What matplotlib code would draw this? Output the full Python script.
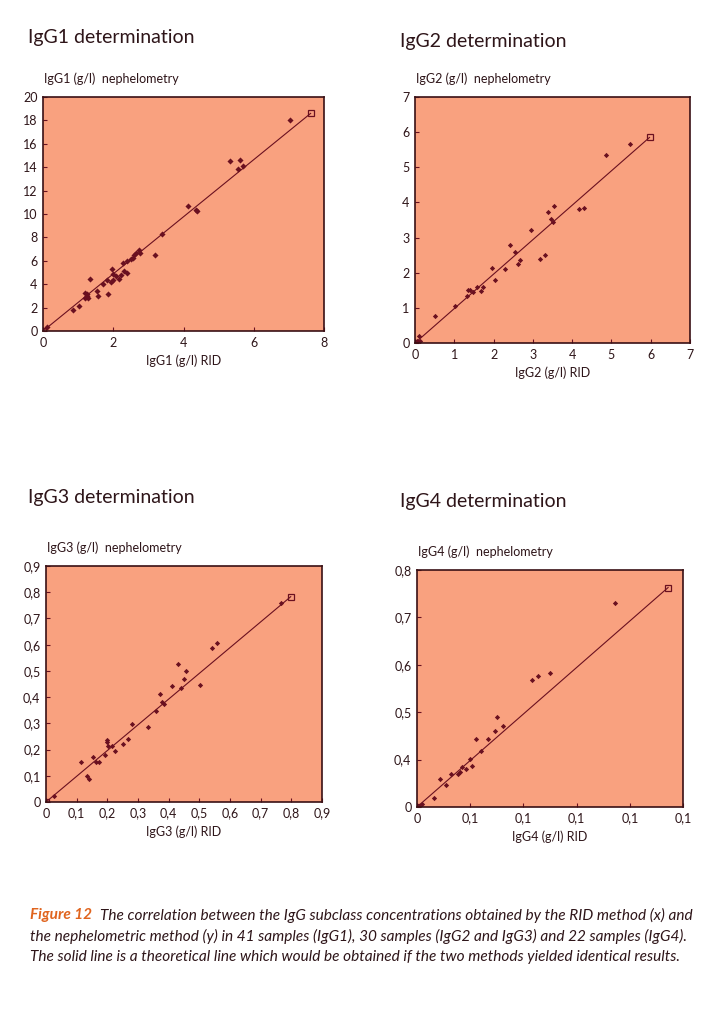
import matplotlib
matplotlib.use("Agg")
import matplotlib.pyplot as plt

plt.rcParams['font.family'] = ['Lato', 'DejaVu Sans']

# ---- data ----
# IgG1: RID (x) vs nephelometry (y), g/l
igg1_rid = [7.03, 5.31, 5.62, 5.56, 5.70, 4.14, 4.36, 4.38, 3.40, 3.20,
            2.74, 2.76, 2.65, 2.59, 2.55, 2.50, 2.38, 2.29, 2.38, 2.30,
            2.21, 2.15, 2.08, 2.00, 1.96, 1.98, 1.94, 1.81, 1.70, 1.85,
            1.35, 1.54, 1.56, 1.19, 1.26, 1.20, 1.28, 1.24, 1.03, 0.84, 0.12]
igg1_neph = [18.07, 14.55, 14.60, 13.84, 14.12, 10.68, 10.37, 10.26, 8.27, 6.48,
             6.96, 6.68, 6.65, 6.50, 6.28, 6.17, 6.02, 5.77, 4.97, 5.11,
             4.80, 4.43, 4.72, 4.83, 5.26, 4.40, 4.15, 4.35, 4.03, 3.18,
             4.46, 3.38, 2.95, 3.27, 3.18, 2.84, 2.84, 3.00, 2.16, 1.76, 0.34]
igg1_line = ([0, 7.62], [0, 18.6])

# IgG2
igg2_rid = [5.47, 4.86, 3.55, 3.38, 3.45, 3.52, 4.18, 4.29, 2.95, 3.31,
            3.17, 2.42, 2.54, 2.68, 2.63, 2.29, 1.96, 2.03, 1.72, 1.67,
            1.57, 1.47, 1.35, 1.40, 1.33, 1.01, 0.50, 0.11, 0.13, 0.06]
igg2_neph = [5.67, 5.36, 3.89, 3.72, 3.53, 3.44, 3.81, 3.85, 3.21, 2.49,
             2.39, 2.78, 2.60, 2.35, 2.24, 2.11, 2.13, 1.80, 1.59, 1.48,
             1.58, 1.45, 1.52, 1.52, 1.35, 1.05, 0.76, 0.19, 0.07, 0.05]
igg2_line = ([0, 5.97], [0, 5.85])

# IgG3
igg3_rid = [0.767, 0.558, 0.541, 0.430, 0.458, 0.451, 0.410, 0.441, 0.502, 0.371,
            0.378, 0.384, 0.360, 0.281, 0.334, 0.266, 0.252, 0.199, 0.199, 0.203,
            0.214, 0.225, 0.192, 0.153, 0.164, 0.173, 0.115, 0.133, 0.141, 0.027]
igg3_neph = [0.757, 0.607, 0.588, 0.528, 0.498, 0.468, 0.444, 0.435, 0.446, 0.410,
             0.381, 0.374, 0.346, 0.298, 0.286, 0.242, 0.223, 0.235, 0.227, 0.214,
             0.215, 0.196, 0.178, 0.171, 0.153, 0.153, 0.151, 0.101, 0.088, 0.023]
igg3_line = ([0, 0.798], [0, 0.783])

# IgG4 (axis starts at 0.3, labels as printed)
igg4_rid = [0.673, 0.550, 0.527, 0.517, 0.450, 0.462, 0.446, 0.433, 0.410, 0.420,
            0.400, 0.403, 0.392, 0.384, 0.381, 0.378, 0.363, 0.344, 0.355, 0.332,
            0.309, 0.304]
igg4_neph = [0.730, 0.582, 0.576, 0.568, 0.490, 0.471, 0.461, 0.444, 0.443, 0.418,
             0.401, 0.387, 0.380, 0.384, 0.373, 0.370, 0.369, 0.359, 0.346, 0.319,
             0.307, 0.303]
igg4_line = ([0.3, 0.772], [0.3, 0.763])

igg1_xticks = [0, 2, 4, 6, 8]
igg1_yticks = [0, 2, 4, 6, 8, 10, 12, 14, 16, 18, 20]
igg2_ticks = [0, 1, 2, 3, 4, 5, 6, 7]
igg3_ticks = [0, 0.1, 0.2, 0.3, 0.4, 0.5, 0.6, 0.7, 0.8, 0.9]
igg3_labels = ['0', '0,1', '0,2', '0,3', '0,4', '0,5', '0,6', '0,7', '0,8', '0,9']
igg4_ticks = [0.3, 0.4, 0.5, 0.6, 0.7, 0.8]
igg4_xlabels = ['0', '0,1', '0,1', '0,1', '0,1', '0,1']
igg4_ylabels = ['0', '0,4', '0,5', '0,6', '0,7', '0,8']

# ---- style ----
bg = '#f9a17f'
dark = '#6a1020'
txt = '#2e1519'
W, H = 716, 1009

fig = plt.figure(figsize=(W / 100, H / 100), dpi=100)


def panel(box, x, y, line, xlim, ylim, xt, yt, xtl, ytl, name, msize):
    l, t, r, b = box
    ax = fig.add_axes([l / W, 1 - b / H, (r - l) / W, (b - t) / H])
    ax.set_facecolor(bg)
    ax.plot(line[0], line[1], color=dark, lw=0.8, marker='s', ms=4.5,
            mfc='none', mec=dark, mew=0.9)
    ax.plot(x, y, 'D', color=dark, ms=msize, mew=0)
    ax.set_xlim(xlim)
    ax.set_ylim(ylim)
    ax.set_xticks(xt)
    ax.set_yticks(yt)
    ax.set_xticklabels(xtl)
    ax.set_yticklabels(ytl)
    ax.tick_params(direction='in', length=3, width=0.8, color=dark,
                   labelsize=9, labelcolor=txt, pad=4)
    for s in ax.spines.values():
        s.set_color('#3a1015')
        s.set_linewidth(1.2)
    ax.set_xlabel(name + ' (g/l) RID', fontsize=9, color=txt, labelpad=4)
    fig.text(l / W + 0.002, 1 - (t - 18) / H, name + ' (g/l)  nephelometry',
             fontsize=9, color=txt, va='center', ha='left')
    return ax


panel((43, 97, 324, 331), igg1_rid, igg1_neph, igg1_line, (0, 8), (0, 20),
      igg1_xticks, igg1_yticks, [str(v) for v in igg1_xticks],
      [str(v) for v in igg1_yticks], 'IgG1', 3.1)
panel((415, 97, 690, 343), igg2_rid, igg2_neph, igg2_line, (0, 7), (0, 7),
      igg2_ticks, igg2_ticks, [str(v) for v in igg2_ticks],
      [str(v) for v in igg2_ticks], 'IgG2', 2.7)
panel((46, 566, 322, 802), igg3_rid, igg3_neph, igg3_line, (0, 0.9), (0, 0.9),
      igg3_ticks, igg3_ticks, igg3_labels, igg3_labels, 'IgG3', 2.7)
panel((417, 570, 683, 807), igg4_rid, igg4_neph, igg4_line, (0.3, 0.8), (0.3, 0.8),
      igg4_ticks, igg4_ticks, igg4_xlabels, igg4_ylabels, 'IgG4', 2.7)

# titles
for tx, ty, s in [(28, 38, 'IgG1 determination'), (400, 41, 'IgG2 determination'),
                  (28, 498, 'IgG3 determination'), (400, 501, 'IgG4 determination')]:
    fig.text(tx / W, 1 - ty / H, s, fontsize=14, color=txt, va='center', ha='left')

# caption
cap = 11.1
fig12 = fig.text(30 / W, 1 - 915 / H, 'Figure 12', fontsize=cap, color='#e0641e',
                 fontweight='bold', style='italic', va='center', ha='left')
fig.canvas.draw()
fig.text(30 / W + (fig12.get_window_extent().width + 8) / W, 1 - 915 / H,
         'The correlation between the IgG subclass concentrations obtained by the RID method (x) and',
         fontsize=cap, color=txt, style='italic', va='center', ha='left')
fig.text(30 / W, 1 - 936 / H,
         'the nephelometric method (y) in 41 samples (IgG1), 30 samples (IgG2 and IgG3) and 22 samples (IgG4).',
         fontsize=cap, color=txt, style='italic', va='center', ha='left')
fig.text(30 / W, 1 - 957 / H,
         'The solid line is a theoretical line which would be obtained if the two methods yielded identical results.',
         fontsize=cap, color=txt, style='italic', va='center', ha='left')

fig.savefig('out.png', dpi=100)
